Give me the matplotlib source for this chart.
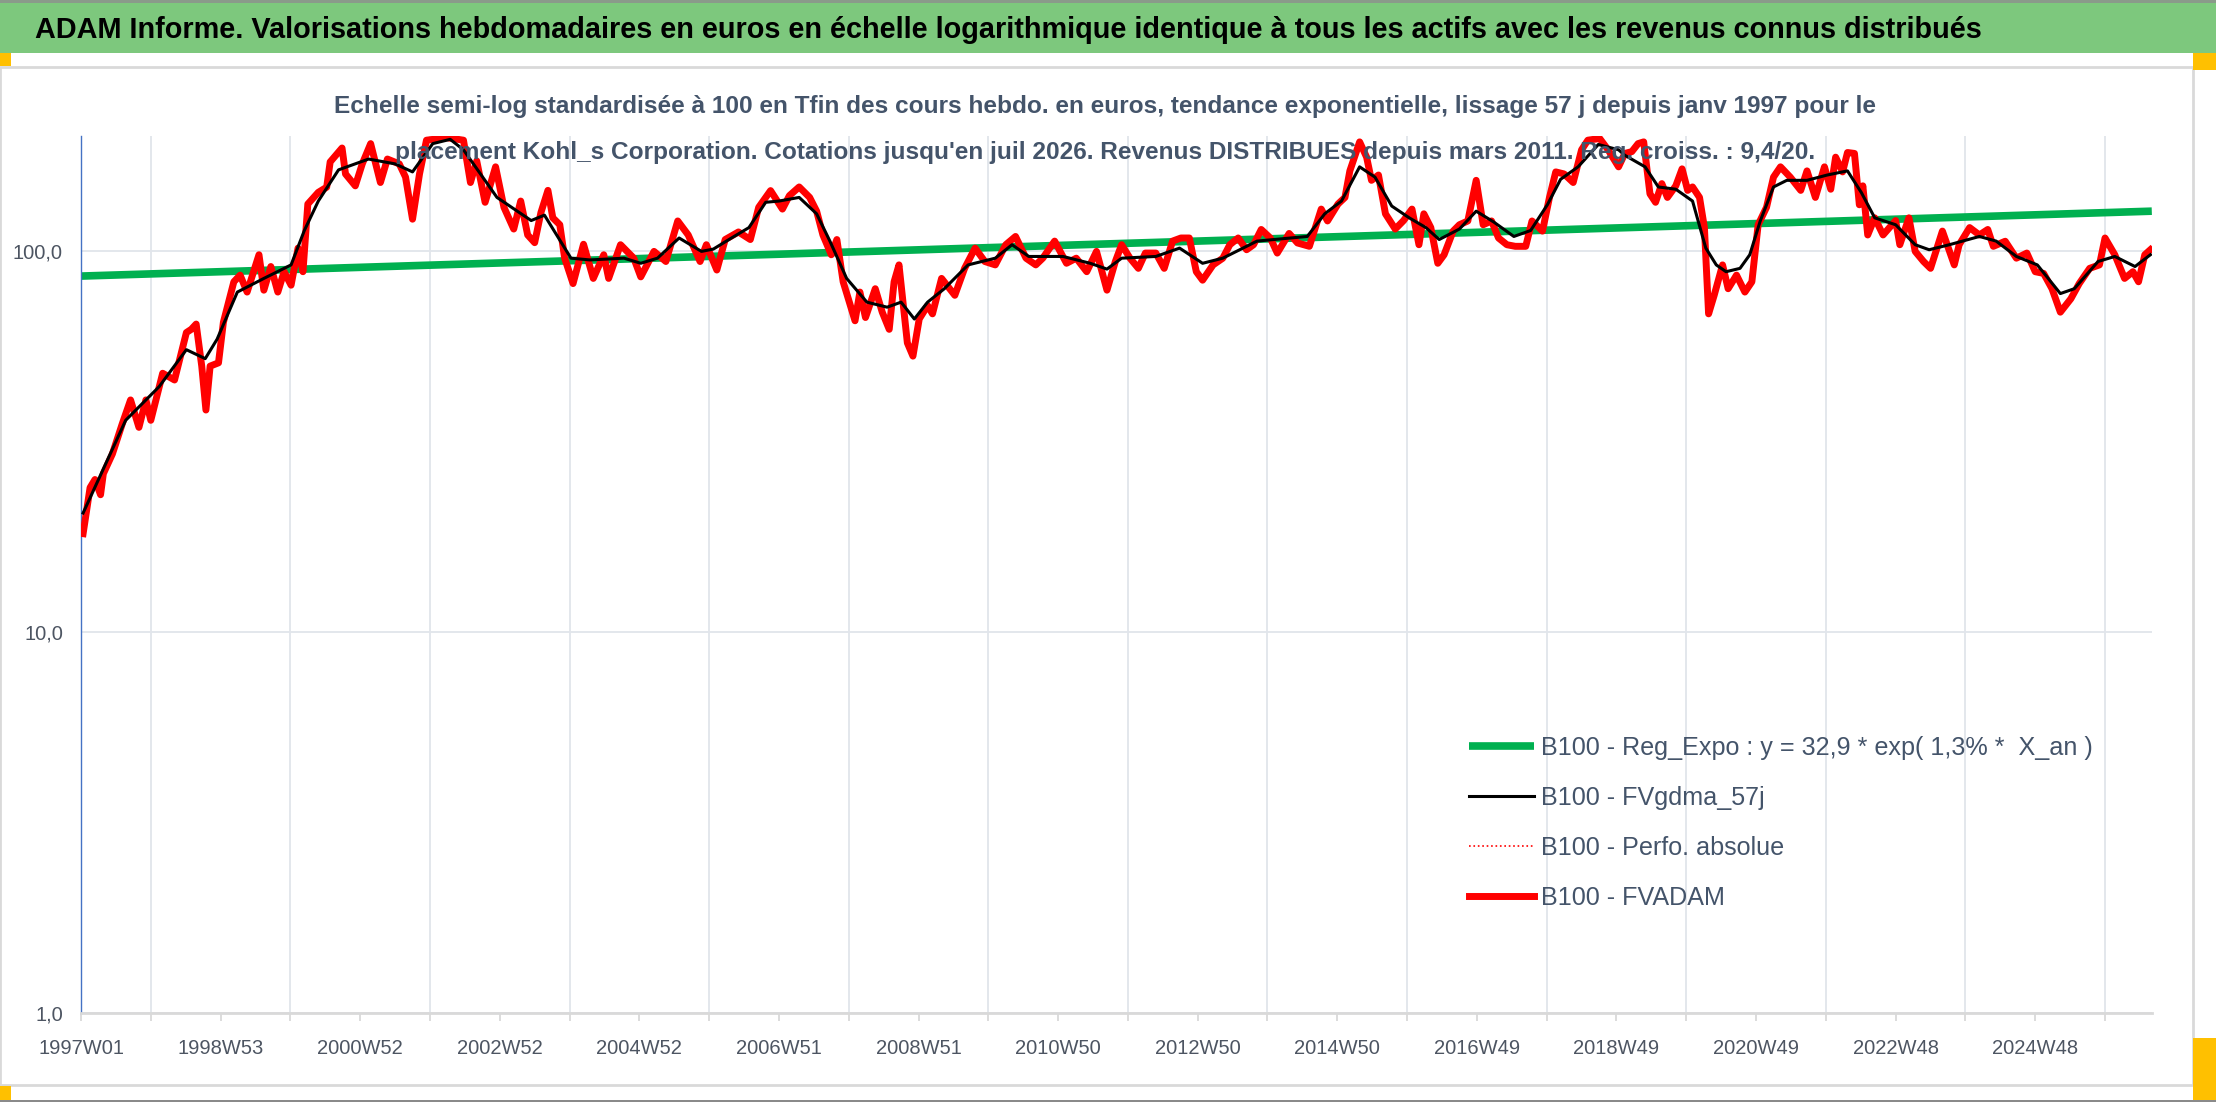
import matplotlib
matplotlib.use("Agg")
import matplotlib.pyplot as plt
from matplotlib.patches import Rectangle
import numpy as np

# ---- data (x in years, 1 year = 52 weekly points) ----
red_years = [1997.03, 1997.13, 1997.20, 1997.28, 1997.32, 1997.45, 1997.59, 1997.71, 1997.83, 1997.93,
             1998.00, 1998.17, 1998.34, 1998.51, 1998.58, 1998.65, 1998.73, 1998.79, 1998.85, 1998.97,
             1999.04, 1999.19, 1999.28, 1999.38, 1999.55, 1999.62, 1999.72, 1999.82, 1999.91, 2000.01,
             2000.11, 2000.18, 2000.25, 2000.40, 2000.52, 2000.57, 2000.74, 2000.79, 2000.93, 2001.03,
             2001.15, 2001.29, 2001.39, 2001.56, 2001.65, 2001.75, 2001.85, 2001.95, 2002.24, 2002.48,
             2002.58, 2002.67, 2002.79, 2002.94, 2003.06, 2003.20, 2003.30, 2003.40, 2003.50, 2003.59,
             2003.69, 2003.76, 2003.86, 2003.93, 2004.05, 2004.20, 2004.34, 2004.49, 2004.56, 2004.73,
             2004.92, 2005.02, 2005.21, 2005.38, 2005.55, 2005.70, 2005.87, 2005.96, 2006.11, 2006.23,
             2006.42, 2006.59, 2006.71, 2006.88, 2007.05, 2007.15, 2007.29, 2007.44, 2007.54, 2007.63,
             2007.75, 2007.83, 2007.92, 2008.09, 2008.16, 2008.24, 2008.38, 2008.48, 2008.58, 2008.65,
             2008.72, 2008.84, 2008.92, 2009.01, 2009.13, 2009.20, 2009.33, 2009.52, 2009.66, 2009.81,
             2009.95, 2010.10, 2010.25, 2010.39, 2010.54, 2010.68, 2010.78, 2010.95, 2011.12, 2011.26,
             2011.41, 2011.55, 2011.70, 2011.82, 2011.91, 2012.03, 2012.15, 2012.25, 2012.40, 2012.52,
             2012.64, 2012.76, 2012.88, 2012.98, 2013.07, 2013.22, 2013.36, 2013.46, 2013.58, 2013.70,
             2013.80, 2013.91, 2014.04, 2014.14, 2014.31, 2014.43, 2014.60, 2014.77, 2014.86, 2015.01,
             2015.11, 2015.18, 2015.32, 2015.42, 2015.49, 2015.59, 2015.69, 2015.83, 2015.95, 2016.07,
             2016.17, 2016.24, 2016.34, 2016.44, 2016.53, 2016.66, 2016.75, 2016.87, 2016.99, 2017.09,
             2017.21, 2017.31, 2017.43, 2017.55, 2017.70, 2017.79, 2017.94, 2018.04, 2018.13, 2018.25,
             2018.38, 2018.50, 2018.59, 2018.76, 2018.88, 2019.03, 2019.12, 2019.22, 2019.31, 2019.39,
             2019.48, 2019.56, 2019.65, 2019.73, 2019.85, 2019.94, 2020.02, 2020.09, 2020.19, 2020.26,
             2020.32, 2020.40, 2020.52, 2020.60, 2020.72, 2020.84, 2020.94, 2021.03, 2021.15, 2021.25,
             2021.35, 2021.49, 2021.64, 2021.73, 2021.85, 2021.98, 2022.07, 2022.14, 2022.24, 2022.31,
             2022.41, 2022.48, 2022.53, 2022.60, 2022.70, 2022.82, 2023.00, 2023.06, 2023.19, 2023.28,
             2023.40, 2023.50, 2023.67, 2023.84, 2023.91, 2024.06, 2024.20, 2024.32, 2024.40, 2024.57,
             2024.73, 2024.88, 2025.00, 2025.12, 2025.24, 2025.36, 2025.51, 2025.63, 2025.78, 2025.92,
             2026.00, 2026.14, 2026.28, 2026.40, 2026.48, 2026.57, 2026.65]
red_vals = [18.1, 23.9, 25.1, 22.9, 26.0, 29.3, 35.1, 40.6, 34.4, 40.6,
            35.9, 47.7, 45.8, 61.0, 62.2, 64.2, 49.8, 38.2, 49.8, 50.8,
            64.9, 82.9, 86.3, 77.9, 97.6, 78.8, 90.9, 77.9, 88.1, 81.2,
            101.6, 88.1, 132.6, 142.3, 146.8, 171, 186, 159, 148, 169,
            191, 151, 174, 169, 156, 121, 159, 195, 198, 195,
            151, 172, 134, 166, 130, 114, 135, 110, 105, 126,
            144, 122, 117, 95.6, 82.0, 104, 84.6, 97.6, 84.6, 103.7,
            95.6, 85.4, 99.6, 93.7, 119.7, 110, 93.7, 103.7, 89.0, 107,
            112, 107, 130, 143.8, 128.6, 139.5, 147, 138, 127, 110,
            97.6, 107, 82.9, 65.5, 77.9, 66.8, 79.5, 69.0, 62.2, 82.9,
            91.8, 57.3, 52.9, 66.2, 71.8, 68.3, 84.6, 76.4, 89.9, 101.6,
            93.7, 91.8, 103.7, 109, 95.6, 91.8, 95.6, 106, 92.7, 95.6,
            88.1, 99.6, 78.8, 93.7, 103.7, 95.6, 89.9, 98.6, 98.6, 89.9,
            106, 108, 108, 88.1, 83.7, 91.8, 95.6, 103.7, 108, 100.6,
            103.7, 113.7, 108, 98.6, 111, 104.8, 102.7, 128.6, 119.7, 132.6,
            138, 162, 193, 176, 153, 158, 125, 114, 120, 128.6,
            103.7, 125, 115, 92.7, 97.6, 112.6, 117, 119.7, 153, 117,
            119.7, 108, 103.7, 102.7, 102.7, 119.7, 112.6, 138, 161, 159,
            151, 184, 195, 197, 184, 166, 180, 182, 191, 193,
            141, 134, 150, 138, 148, 164, 144, 147, 138, 115,
            68.3, 76.4, 91.8, 79.5, 86.3, 77.9, 82.9, 117, 130, 156,
            166, 156, 144, 162, 138, 166, 145, 176, 161, 181,
            180, 132, 148, 110, 122, 110, 120, 103.7, 122, 99.6,
            93.7, 89.9, 112.6, 91.8, 103.7, 115, 110, 113.7, 102.7, 105.9,
            95.6, 98.6, 88.1, 87.2, 79.5, 69.0, 74.8, 82.0, 89.9, 91.8,
            108, 97.6, 84.6, 88.1, 82.9, 97.6, 100.6]

black_years = [1997.03, 1997.64, 1998.12, 1998.51, 1998.78, 1998.95, 1999.24, 1999.62, 2000.01, 2000.20,
               2000.40, 2000.69, 2001.12, 2001.50, 2001.75, 2002.04, 2002.29, 2002.48, 2002.96, 2003.45,
               2003.64, 2004.02, 2004.29, 2004.78, 2005.02, 2005.26, 2005.57, 2005.89, 2006.06, 2006.32,
               2006.57, 2006.81, 2007.00, 2007.29, 2007.54, 2007.73, 2007.97, 2008.26, 2008.55, 2008.75,
               2008.94, 2009.13, 2009.37, 2009.71, 2010.10, 2010.34, 2010.58, 2011.07, 2011.46, 2011.70,
               2011.91, 2012.40, 2012.74, 2013.07, 2013.36, 2013.85, 2014.33, 2014.57, 2014.82, 2015.06,
               2015.32, 2015.54, 2015.78, 2016.03, 2016.27, 2016.46, 2016.75, 2016.99, 2017.24, 2017.53,
               2017.77, 2018.01, 2018.20, 2018.45, 2018.74, 2019.03, 2019.12, 2019.41, 2019.60, 2019.85,
               2020.09, 2020.28, 2020.43, 2020.57, 2020.77, 2020.91, 2021.06, 2021.25, 2021.44, 2021.73,
               2022.02, 2022.31, 2022.51, 2022.70, 2023.00, 2023.28, 2023.48, 2023.77, 2024.20, 2024.44,
               2024.73, 2025.03, 2025.36, 2025.56, 2025.90, 2026.14, 2026.43, 2026.65]
black_vals = [20.5, 35.9, 44.0, 55.0, 52.1, 58.6, 77.9, 84.6, 91.8, 113,
              135, 163, 174, 169, 161, 191, 196, 184, 138, 120,
              124, 95.6, 94.6, 95.6, 92.7, 95.6, 108, 99.6, 101, 108,
              115, 134, 135, 138, 125, 106, 84.6, 73.3, 71.1, 73.3,
              66.2, 73.3, 79.5, 91.8, 95.6, 103.7, 96.6, 96.6, 92.7, 89.5,
              95.6, 96.6, 101.6, 92.7, 95.6, 106, 108, 109, 125, 135,
              166, 156, 131, 122, 115, 107, 114, 127, 119, 109,
              113, 132, 154, 166, 190, 184, 178, 166, 147, 145,
              135, 101.6, 91.8, 88.1, 89.9, 97.6, 119.7, 147, 153, 153,
              158, 162, 142, 122, 117, 103.7, 100.6, 103.7, 109, 106,
              96.6, 91.8, 77.2, 79.5, 93.7, 96.6, 90.9, 97.6]

green_years = [1997.0, 2026.67]
green_vals = [85.8, 127.0]

tick_labels = ["1997W01", "1998W53", "2000W52", "2002W52", "2004W52", "2006W51", "2008W51",
               "2010W50", "2012W50", "2014W50", "2016W49", "2018W49", "2020W49", "2022W48", "2024W48"]

legend_labels = ["B100 - Reg_Expo : y = 32,9 * exp( 1,3% *  X_an )",
                 "B100 - FVgdma_57j",
                 "B100 - Perfo. absolue",
                 "B100 - FVADAM"]

title = ("ADAM Informe. Valorisations hebdomadaires en euros en échelle logarithmique identique "
         "à tous les actifs avec les revenus connus distribués")
subtitle_1 = ("Echelle semi-log standardisée à 100 en Tfin des cours hebdo. en euros, tendance exponentielle, "
              "lissage 57 j depuis janv 1997 pour le")
subtitle_2 = ("placement Kohl_s Corporation. Cotations jusqu'en juil 2026. Revenus DISTRIBUES depuis mars 2011. "
              "Reg. croiss. : 9,4/20.")


def to_week(years):
    return (np.array(years) - 1997.0) * 52


W, H = 2216, 1102
fig = plt.figure(figsize=(W / 100, H / 100), dpi=100)
plt.rcParams['font.family'] = ['Liberation Sans', 'DejaVu Sans']
text_col = '#44546A'

# header band, chart frame and selection handles (behind the axes)
fig.patches.append(Rectangle((0, 1 - 53 / H), 1, 53 / H, transform=fig.transFigure,
                             facecolor='#7DC87D', edgecolor='none', zorder=-3))
fig.patches.append(Rectangle((0, 1 - 3 / H), 1, 3 / H, transform=fig.transFigure,
                             facecolor='#8A9A8A', edgecolor='none', zorder=-3))
fig.patches.append(Rectangle((0, 1 - 1085 / H), 2193 / W, (1085 - 67) / H, transform=fig.transFigure,
                             facecolor='white', edgecolor='#D9D9D9', linewidth=2, zorder=-3))
for (x0, y0, w, h) in [(0, 53, 11, 13), (2193, 53, 23, 17), (0, 1086, 11, 14), (2193, 1038, 23, 62)]:
    fig.patches.append(Rectangle((x0 / W, 1 - (y0 + h) / H), w / W, h / H, transform=fig.transFigure,
                                 facecolor='#FFC000', edgecolor='none', zorder=-2))
fig.patches.append(Rectangle((0, 0), 1, 2 / H, transform=fig.transFigure,
                             facecolor='#8A8A8A', edgecolor='none', zorder=-2))

fig.text(35 / W, 1 - 30 / H, title, fontsize=20.8, fontweight='bold', color='black',
         va='center', ha='left')
fig.text(1105 / W, 1 - 107 / H, subtitle_1, fontsize=17.6, fontweight='bold', color=text_col,
         va='center', ha='center', zorder=5)
fig.text(1105 / W, 1 - 153 / H, subtitle_2, fontsize=17.6, fontweight='bold', color=text_col,
         va='center', ha='center', zorder=5)

ax = fig.add_axes([81 / W, 1 - 1013 / H, (2152 - 81) / W, (1013 - 136) / H])
ax.set_facecolor('none')

ax.plot(to_week(green_years), green_vals, color='#00B050', linewidth=5.5,
        solid_capstyle='butt', label=legend_labels[0], zorder=2)
ax.plot(to_week(red_years), red_vals, color='red', linewidth=1.2, linestyle=':',
        label=legend_labels[2], zorder=2.5)
ax.plot(to_week(red_years), red_vals, color='#FF0000', linewidth=5.0,
        solid_joinstyle='round', label=legend_labels[3], zorder=3)
ax.plot(to_week(black_years), black_vals, color='black', linewidth=2.2,
        label=legend_labels[1], zorder=4)

ax.set_yscale('log')
ax.set_ylim(1, 200)
ax.set_xlim(0, 1543)
ax.set_yticks([1, 10, 100])
ax.set_yticklabels(['1,0', '10,0', '100,0'])
ax.yaxis.set_minor_locator(plt.NullLocator())
ax.set_xticks(np.arange(0, 1457, 104))
ax.set_xticklabels(tick_labels)
ax.set_xticks(np.arange(0, 1509, 52), minor=True)

ax.grid(True, which='major', axis='y', color='#E1E5EB', linewidth=1.3)
ax.grid(True, which='minor', axis='x', color='#E1E5EB', linewidth=1.3)
ax.set_axisbelow(True)

for side in ['top', 'right']:
    ax.spines[side].set_visible(False)
ax.spines['left'].set_color('#4472C4')
ax.spines['left'].set_linewidth(1.0)
ax.spines['bottom'].set_color('#D9D9D9')
ax.spines['bottom'].set_linewidth(2.0)

ax.tick_params(axis='y', length=0, pad=13, labelsize=14.5, labelcolor='#4D5562')
ax.tick_params(axis='x', which='both', length=6, color='#D9D9D9', width=1.3)
ax.tick_params(axis='x', which='major', pad=13, labelsize=14.5, labelcolor='#4D5562')

handles, labels = ax.get_legend_handles_labels()
order = [labels.index(l) for l in legend_labels]
leg = fig.legend([handles[i] for i in order], [labels[i] for i in order],
                 loc='upper left', bbox_to_anchor=(1469 / W, 1 - 736 / H),
                 frameon=False, fontsize=18.1, handlelength=2.6, handletextpad=0.25,
                 labelspacing=1.03, borderpad=0, borderaxespad=0)
for t in leg.get_texts():
    t.set_color(text_col)

fig.savefig('out.png', dpi=100)
